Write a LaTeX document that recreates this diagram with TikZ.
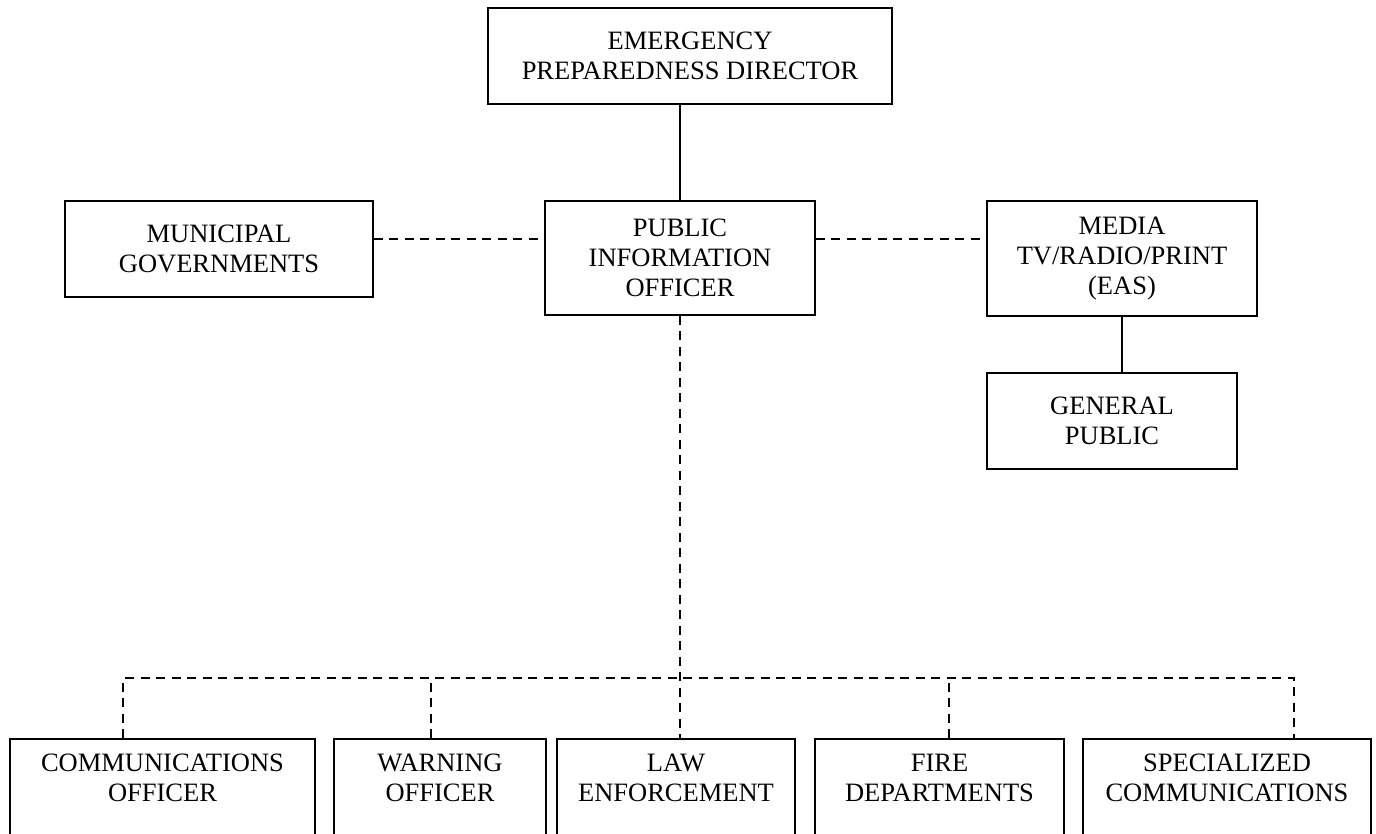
\documentclass[tikz,border=0pt]{standalone}
\usepackage{fontspec}
\setmainfont{Liberation Serif}
\begin{document}
\begin{tikzpicture}[x=0.5pt,y=-0.5pt,
  orgbox/.style={draw, line width=0.9pt, rectangle, align=center, inner sep=0pt,
    font=\fontsize{13.25}{15}\selectfont},
  boxlabel/.style={align=center, inner sep=0pt, anchor=north,
    font=\fontsize{13.25}{15}\selectfont},
  solidline/.style={line width=0.8pt},
  dashline/.style={line width=0.8pt, dash pattern=on 4.5pt off 3.25pt}]
\useasboundingbox (0,0) rectangle (1376,834);
\clip (0,0) rectangle (1376,834);

% upper tier
\node[orgbox, minimum width=202pt, minimum height=48pt] (dir) at (690,56)
  {EMERGENCY\\PREPAREDNESS DIRECTOR};
\node[orgbox, minimum width=135pt, minimum height=57pt] (pio) at (680,258)
  {PUBLIC\\INFORMATION\\OFFICER};
\node[orgbox, minimum width=154pt, minimum height=48pt] (muni) at (219,249)
  {MUNICIPAL\\GOVERNMENTS};
\node[orgbox, minimum width=135pt, minimum height=57.5pt] (media) at (1122,258.5)
  {MEDIA\\TV/RADIO/PRINT\\(EAS)};
\node[orgbox, minimum width=125pt, minimum height=48pt] (gp) at (1112,421)
  {GENERAL\\PUBLIC};

% lower tier: boxes run past the lower edge
\foreach \nm/\cx/\w in {comm/162.5/152.5, warn/440/106, law/676/119,
                        fire/939.5/124.5, spec/1227/144}{
  \node[orgbox, anchor=north, minimum width=\w pt, minimum height=70pt]
    (\nm) at (\cx,738) {};
}
\node[boxlabel] (commT) at (162.5,754) {COMMUNICATIONS\\OFFICER};
\node[boxlabel] (warnT) at (440,754) {WARNING\\OFFICER};
\node[boxlabel] (lawT)  at (676,754) {LAW\\ENFORCEMENT};
\node[boxlabel] (fireT) at (939.5,754) {FIRE\\DEPARTMENTS};
\node[boxlabel] (specT) at (1227,754) {SPECIALIZED\\COMMUNICATIONS};

% connectors
\coordinate (hy) at (0,239);
\coordinate (busL) at (123,678);
\coordinate (busR) at (1294,678);
\coordinate (tapW) at (431,738);
\coordinate (tapF) at (949,738);

\draw[solidline] (pio.north) -- (pio.north |- dir.south);
\draw[solidline] (media.south) -- (media.south |- gp.north);
\draw[dashline] (muni.east |- hy) -- (pio.west |- hy);
\draw[dashline] (pio.east |- hy) -- (media.west |- hy);
\draw[dashline] (pio.south) -- (pio.south |- law.north);
\draw[dashline] (busL |- comm.north) -- (busL) -- (busR) -- (busR |- spec.north);
\draw[dashline] (tapW) -- (tapW |- busL);
\draw[dashline] (tapF) -- (tapF |- busL);
\end{tikzpicture}
\end{document}
